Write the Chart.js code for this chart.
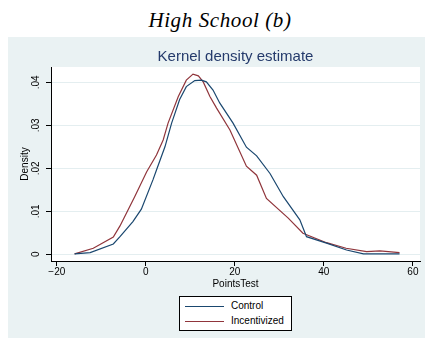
<!DOCTYPE html>
<html>
<head>
<meta charset="utf-8">
<script src="https://cdn.jsdelivr.net/npm/chart.js@4.4.1/dist/chart.umd.min.js"></script>
<style>
  body { margin: 0; background: #fff; width: 425px; height: 338px; position: relative; overflow: hidden; }
  #heading { position: absolute; left: 0; width: 440px; top: 8px; text-align: center; letter-spacing: 0.6px;
    font-family: 'Liberation Serif', serif; font-style: italic; font-size: 21px; color: #000; }
  #panel { position: absolute; left: 8px; top: 37px; width: 417px; height: 301px; background: #eaf2f3; }
  #legend { position: absolute; left: 179px; top: 296px; width: 111px; height: 33px; background: #fff;
    border: 1px solid #000; font-family: 'Liberation Sans', Arial, sans-serif; font-size: 10px; }
  .item { position: absolute; left: 5px; height: 12px; }
  .item span { display: inline-block; width: 39px; height: 0; border-top: 1.3px solid; vertical-align: middle; margin-right: 7px; }
</style>
</head>
<body>
<div id="heading">High School (b)</div>
<div id="panel"><canvas id="kd" width="417" height="301"></canvas></div>
<div id="legend"></div>
<script>
// kernel density curves
const controlX = [-16, -12.5, -7.3, -5.8, -2.9, -1, 1.6, 2.4, 4.3, 5.8, 7.6, 9.1, 11, 12.5, 13.6, 15.1, 16.6, 19.6, 22.6, 24.9, 27.9, 30.9, 34.6, 36.1, 40.6, 45.1, 48.9, 57];
const controlY = [0.0001, 0.0004, 0.0024, 0.0041, 0.0076, 0.0105, 0.0173, 0.0196, 0.025, 0.0305, 0.036, 0.039, 0.0404, 0.0405, 0.0401, 0.0382, 0.0352, 0.0305, 0.0249, 0.0229, 0.0188, 0.0134, 0.008, 0.0041, 0.0026, 0.001, 0.0001, 0.0001];
const incentX = [-16, -11.8, -7.3, -5.8, -2.5, 0.2, 2.4, 3.9, 5, 7.3, 9.1, 10.6, 11.8, 12.9, 14.4, 15.9, 18.9, 22.6, 24.9, 27.1, 32, 35.3, 40.6, 45, 49.6, 52.6, 57];
const incentY = [0.0001, 0.0014, 0.004, 0.0066, 0.0134, 0.0192, 0.0231, 0.0266, 0.0305, 0.0367, 0.0405, 0.0419, 0.0415, 0.0401, 0.0367, 0.034, 0.0289, 0.0205, 0.0184, 0.013, 0.0084, 0.0049, 0.0027, 0.0014, 0.0006, 0.0008, 0.0004];

const seriesNames = ['Control', 'Incentivized'];
const seriesColors = ['#1a476f', '#90353b'];

const xTickValues = [-20, 0, 20, 40, 60];
const xTickLabels = ['\u221220', '0', '20', '40', '60'];
const yTickValues = [0, 0.01, 0.02, 0.03, 0.04];
const yTickLabels = ['0', '.01', '.02', '.03', '.04'];

function toPoints(xs, ys) {
    return xs.map((x, i) => ({ x: x, y: ys[i] }));
}

// html legend, stacked like Stata's
const legend = document.getElementById('legend');
seriesNames.forEach((name, i) => {
    const div = document.createElement('div');
    div.className = 'item';
    div.style.top = (3 + i * 15) + 'px';
    div.innerHTML = '<span style="border-color:' + seriesColors[i] + '"></span>' + name;
    legend.appendChild(div);
});

const plotBg = {
    id: 'plotBg',
    beforeDraw(chart) {
        const a = chart.chartArea;
        chart.ctx.save();
        chart.ctx.fillStyle = '#fff';
        chart.ctx.fillRect(a.left, a.top, a.right - a.left, a.bottom - a.top);
        chart.ctx.restore();
    }
};

const font = { family: "'Liberation Sans', Arial, sans-serif", size: 10 };

new Chart(document.getElementById('kd'), {
    type: 'line',
    data: {
        datasets: [
            { label: seriesNames[0], data: toPoints(controlX, controlY), borderColor: seriesColors[0], borderWidth: 1.2, pointRadius: 0, tension: 0 },
            { label: seriesNames[1], data: toPoints(incentX, incentY), borderColor: seriesColors[1], borderWidth: 1.2, pointRadius: 0, tension: 0 }
        ]
    },
    options: {
        responsive: false,
        animation: false,
        layout: { padding: { left: 0, right: 5, top: 0, bottom: 47 } },
        plugins: {
            legend: { display: false },
            tooltip: { enabled: false },
            title: {
                display: true,
                fullSize: false,
                text: 'Kernel density estimate',
                color: '#243a6b',
                font: { family: font.family, size: 15, weight: 'normal' },
                padding: { top: 11, bottom: 1 }
            }
        },
        scales: {
            x: {
                type: 'linear',
                min: -21.3,
                max: 61.6,
                afterFit: s => { s.height = 30; },
                afterBuildTicks: s => { s.ticks = xTickValues.map(v => ({ value: v })); },
                ticks: {
                    color: '#000', font: font, padding: 0, maxRotation: 0,
                    callback: v => xTickLabels[xTickValues.indexOf(v)]
                },
                grid: { drawOnChartArea: false, tickLength: 5, tickColor: '#000' },
                border: { color: '#000', width: 1 },
                title: { display: true, text: 'PointsTest', color: '#000', font: font, padding: { top: 0, bottom: 1 } }
            },
            y: {
                min: -0.00156,
                max: 0.04356,
                afterFit: s => { s.width = 43; },
                afterBuildTicks: s => { s.ticks = yTickValues.map(v => ({ value: v })); },
                ticks: {
                    color: '#000', font: font, padding: 3, minRotation: 90, maxRotation: 90, crossAlign: 'center',
                    callback: v => yTickLabels[yTickValues.indexOf(v)]
                },
                grid: { color: '#e4eef0', tickLength: 5, tickColor: '#000' },
                border: { color: '#000', width: 1 },
                title: { display: true, text: 'Density', color: '#000', font: font, padding: { top: 11, bottom: 0 } }
            }
        }
    },
    plugins: [plotBg]
});
</script>
</body>
</html>
